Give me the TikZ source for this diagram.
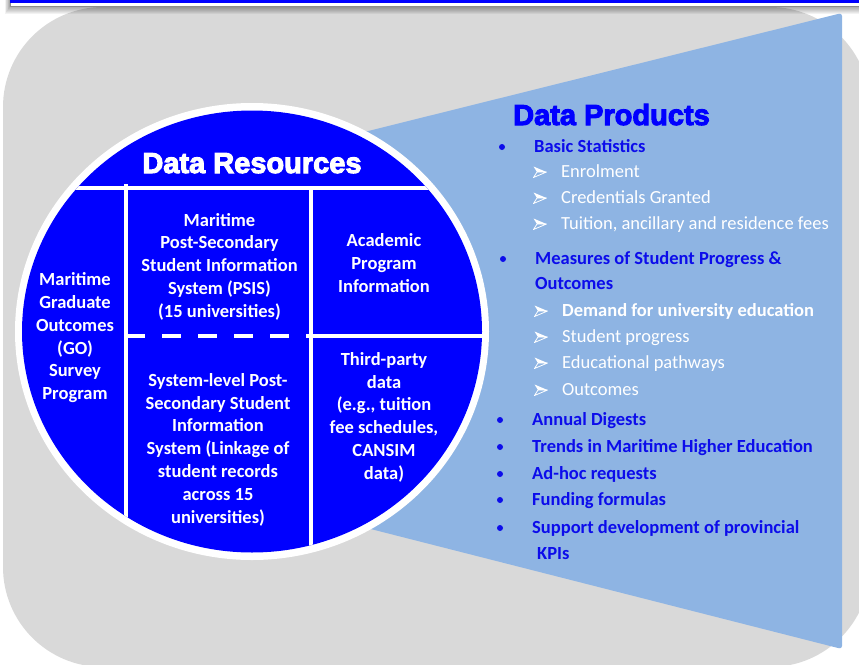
\documentclass[tikz,border=0pt]{standalone}
\usepackage{fontspec}
\setmainfont{Carlito}
\newfontfamily\headfont{Liberation Sans}[BoldFeatures={FakeBold=3.5}]
\definecolor{resblue}{RGB}{0,0,255}
\definecolor{listblue}{RGB}{12,12,235}
\definecolor{conefill}{RGB}{142,180,227}
\definecolor{panelgray}{RGB}{217,217,217}
% invisible strut: keeps the visual centre of a text block at its node centre
\newcommand\lnstrut{\rule[-0.24em]{0pt}{0.9em}}

\begin{document}
\begin{tikzpicture}[x=1pt,y=-1pt,
  celltext/.style={text=white, font=\bfseries\fontsize{18.5}{22.8}\selectfont,
    align=flush center, inner sep=0pt,
    execute at begin node=\lnstrut, execute at end node=\lnstrut},
  headline/.style={text=#1, font=\headfont\bfseries\fontsize{29}{34}\selectfont, inner sep=0pt},
  topic/.style={text=listblue, font=\bfseries\fontsize{18.5}{22}\selectfont,
    anchor=base west, inner sep=0pt},
  subitem/.style={text=white, font=\fontsize{18.5}{22}\selectfont,
    anchor=base west, inner sep=0pt},
  boldsub/.style={subitem, font=\bfseries\fontsize{18.5}{22}\selectfont},
  divider/.style={white, line width=4.5pt},
  bulletdot/.style={fill=listblue},
  arrowmark/.pic={
    \fill[white] (-6.5,-5.5) -- (6.5,0) -- (-3,0) -- cycle;
    \draw[white, line width=0.8pt, line join=round] (-6.5,5.5) -- (6.5,0) -- (-3,0) -- cycle;
  }]
\useasboundingbox (0,0) rectangle (859,664);

% grey backing panel
\fill[panelgray, rounded corners=100pt] (3,7) rectangle (870,667);

% light blue cone fanning out to the right
\fill[conefill, rounded corners=3pt] (300,148) -- (842,13) -- (842,649) -- (300,511) -- cycle;

% the data resources disc
\fill[white] (252,331.5) ellipse [x radius=237pt, y radius=228.5pt];
\fill[resblue] (252,331.5) ellipse [x radius=230pt, y radius=221pt];
\begin{scope}
  \clip (252,331.5) ellipse [x radius=230pt, y radius=221pt];
  \draw[divider] (0,188) -- (500,188);
  \draw[divider] (126,184) -- (126,600);
  \draw[divider] (311,188) -- (311,600);
  \draw[divider] (311,336) -- (500,336);
  \draw[divider, dash pattern=on 19pt off 17pt] (126,336) -- (311,336);
\end{scope}

\node[headline=white, anchor=base] (resTitle) at (252,173) {\bfseries Data Resources};

\node[celltext, text width=100pt] (goCell) at (75,338.5)
  {Maritime\\Graduate\\Outcomes\\(GO)\\Survey\\Program};
\node[celltext, text width=180pt] (psisCell) at (219.5,267.5)
  {Maritime\\Post-Secondary\\Student Information\\System (PSIS)\\(15 universities)};
\node[celltext, text width=170pt] (acadCell) at (384,265.5)
  {Academic\\Program\\Information};
\node[celltext, text width=180pt] (linkCell) at (218,450.5)
  {System-level Post-\\Secondary Student\\Information\\System (Linkage of\\student records\\across 15\\universities)};
\node[celltext, text width=170pt] (thirdCell) at (384,418)
  {Third-party\\data\\(e.g., tuition\\fee schedules,\\CANSIM\\data)};

% data products list
\node[headline=resblue, anchor=base west] (prodTitle) at (513,125) {\bfseries Data Products};

\fill[bulletdot] (502,147) circle (3pt);
\node[topic] (basicStats) at (534,152) {Basic Statistics};
\pic at (540,172) {arrowmark};
\node[subitem] (enrol) at (561,177) {Enrolment};
\pic at (540,198) {arrowmark};
\node[subitem] (creds) at (561,203) {Credentials Granted};
\pic at (540,224) {arrowmark};
\node[subitem] (fees) at (561,229) {Tuition, ancillary and residence fees};

\fill[bulletdot] (503,259) circle (3pt);
\node[topic] (measures) at (535,264) {Measures of Student Progress \&};
\node[topic] (measuresTail) at (535,289) {Outcomes};
\pic at (541,311) {arrowmark};
\node[boldsub] (demand) at (562,316) {Demand for university education};
\pic at (541,337) {arrowmark};
\node[subitem] (progress) at (562,342) {Student progress};
\pic at (541,363) {arrowmark};
\node[subitem] (pathways) at (562,368) {Educational pathways};
\pic at (541,390) {arrowmark};
\node[subitem] (outcomes) at (562,395) {Outcomes};

\fill[bulletdot] (500,420) circle (3pt);
\node[topic] (digests) at (532,425) {Annual Digests};
\fill[bulletdot] (500,447) circle (3pt);
\node[topic] (trends) at (532,452) {Trends in Maritime Higher Education};
\fill[bulletdot] (500,474) circle (3pt);
\node[topic] (adhoc) at (532,479) {Ad-hoc requests};
\fill[bulletdot] (500,500) circle (3pt);
\node[topic] (funding) at (532,505) {Funding formulas};
\fill[bulletdot] (500,528) circle (3pt);
\node[topic] (kpis) at (532,533) {Support development of provincial};
\node[topic] (kpisTail) at (537,559) {KPIs};

% header strip along the top edge, with its soft shadow
\foreach \k in {1,...,8}
  \fill[black, opacity=0.05] (10-0.6*\k,-10) rectangle (880,6+\k);
\filldraw[fill=white, draw=black!45, line width=0.8pt] (10,-10) rectangle (880,6);
\fill[resblue] (10,-10) rectangle (880,2.5);
\end{tikzpicture}
\end{document}
